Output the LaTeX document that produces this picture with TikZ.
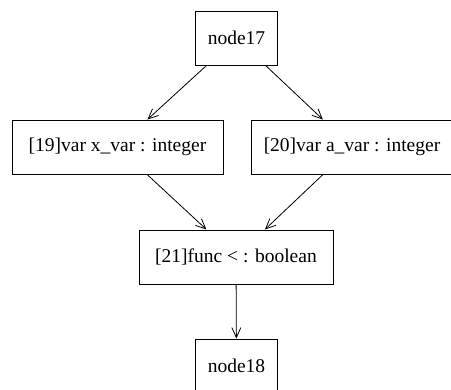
\documentclass[tikz,border=0pt]{standalone}
\usepackage{fontspec}
\setmainfont{Liberation Serif}
\usetikzlibrary{arrows.meta}
\begin{document}
\begin{tikzpicture}[x=1pt,y=1pt,
  box/.style={draw,line width=0.9pt,inner sep=0pt,minimum height=54pt,font=\fontsize{19.5}{23}\selectfont},
  edge/.style={draw,line width=0.8pt,-{Straight Barb[length=10pt,width=9pt,line width=0.8pt]}}]
\useasboundingbox (0,0) rectangle (451,390);
\node[box,minimum width=82pt] (n17) at (236.5,352) {node17};
\node[box,minimum width=211pt] (n19) at (117.5,243) {[19]var x\_var : integer};
\node[box,minimum width=202pt] (n20) at (352,243) {[20]var a\_var : integer};
\node[box,minimum width=194pt] (n21) at (236,133) {[21]func < : boolean};
\node[box,minimum width=82pt] (n18) at (236.5,24) {node18};
\draw[edge] (n17) -- (n19);
\draw[edge] (n17) -- (n20);
\draw[edge] (n19) -- (n21);
\draw[edge] (n20) -- (n21);
\draw[edge] (n21) -- (n18);
\end{tikzpicture}
\end{document}
